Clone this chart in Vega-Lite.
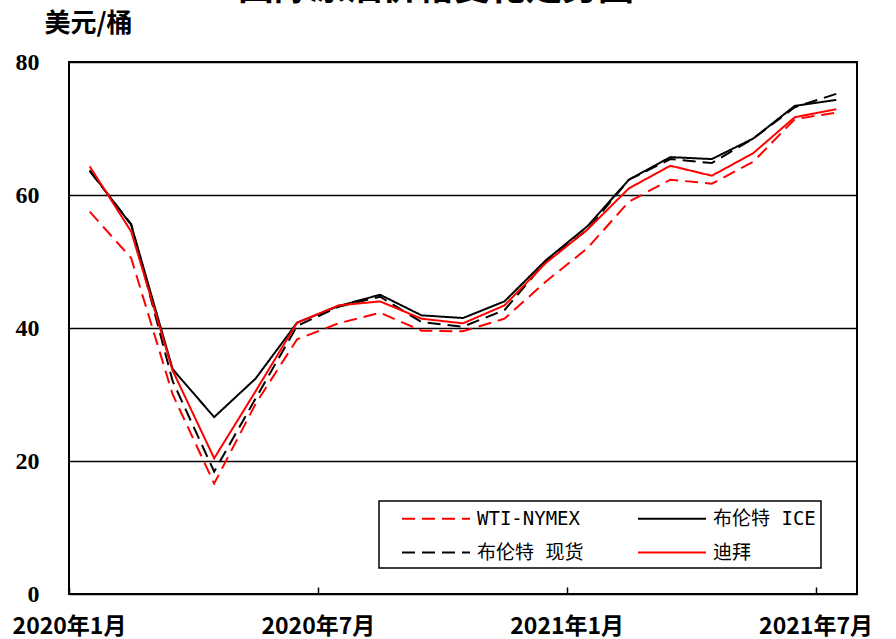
{
  "$schema": "https://vega.github.io/schema/vega-lite/v6.json",
  "width": 788,
  "height": 532,
  "autosize": {"type": "none"},
  "padding": {"top": 62, "left": 69, "right": 39, "bottom": 45},
  "background": "white",
  "title": {
    "text": "国际原油价格变化走势图",
    "font": "Noto Sans CJK SC",
    "fontSize": 36,
    "fontWeight": "bold",
    "color": "black",
    "anchor": "middle",
    "frame": "group",
    "dx": -27,
    "dy": 2
  },
  "data": {
    "values": [
      {"m": "2020年1月", "s": "WTI-NYMEX", "v": 57.5},
      {"m": "2020年2月", "s": "WTI-NYMEX", "v": 50.5},
      {"m": "2020年3月", "s": "WTI-NYMEX", "v": 30.0},
      {"m": "2020年4月", "s": "WTI-NYMEX", "v": 16.6},
      {"m": "2020年5月", "s": "WTI-NYMEX", "v": 28.6},
      {"m": "2020年6月", "s": "WTI-NYMEX", "v": 38.3},
      {"m": "2020年7月", "s": "WTI-NYMEX", "v": 40.7},
      {"m": "2020年8月", "s": "WTI-NYMEX", "v": 42.3},
      {"m": "2020年9月", "s": "WTI-NYMEX", "v": 39.6},
      {"m": "2020年10月", "s": "WTI-NYMEX", "v": 39.5},
      {"m": "2020年11月", "s": "WTI-NYMEX", "v": 41.4},
      {"m": "2020年12月", "s": "WTI-NYMEX", "v": 47.0},
      {"m": "2021年1月", "s": "WTI-NYMEX", "v": 52.0},
      {"m": "2021年2月", "s": "WTI-NYMEX", "v": 59.0},
      {"m": "2021年3月", "s": "WTI-NYMEX", "v": 62.3},
      {"m": "2021年4月", "s": "WTI-NYMEX", "v": 61.7},
      {"m": "2021年5月", "s": "WTI-NYMEX", "v": 65.0},
      {"m": "2021年6月", "s": "WTI-NYMEX", "v": 71.4},
      {"m": "2021年7月", "s": "WTI-NYMEX", "v": 72.4},
      {"m": "2020年1月", "s": "布伦特 ICE", "v": 63.7},
      {"m": "2020年2月", "s": "布伦特 ICE", "v": 55.5},
      {"m": "2020年3月", "s": "布伦特 ICE", "v": 33.8},
      {"m": "2020年4月", "s": "布伦特 ICE", "v": 26.6},
      {"m": "2020年5月", "s": "布伦特 ICE", "v": 32.4},
      {"m": "2020年6月", "s": "布伦特 ICE", "v": 40.8},
      {"m": "2020年7月", "s": "布伦特 ICE", "v": 43.3},
      {"m": "2020年8月", "s": "布伦特 ICE", "v": 45.0},
      {"m": "2020年9月", "s": "布伦特 ICE", "v": 41.9},
      {"m": "2020年10月", "s": "布伦特 ICE", "v": 41.5},
      {"m": "2020年11月", "s": "布伦特 ICE", "v": 44.0},
      {"m": "2020年12月", "s": "布伦特 ICE", "v": 50.2},
      {"m": "2021年1月", "s": "布伦特 ICE", "v": 55.3},
      {"m": "2021年2月", "s": "布伦特 ICE", "v": 62.3},
      {"m": "2021年3月", "s": "布伦特 ICE", "v": 65.7},
      {"m": "2021年4月", "s": "布伦特 ICE", "v": 65.4},
      {"m": "2021年5月", "s": "布伦特 ICE", "v": 68.5},
      {"m": "2021年6月", "s": "布伦特 ICE", "v": 73.4},
      {"m": "2021年7月", "s": "布伦特 ICE", "v": 74.3},
      {"m": "2020年1月", "s": "布伦特 现货", "v": 63.6},
      {"m": "2020年2月", "s": "布伦特 现货", "v": 55.6},
      {"m": "2020年3月", "s": "布伦特 现货", "v": 32.0},
      {"m": "2020年4月", "s": "布伦特 现货", "v": 18.4},
      {"m": "2020年5月", "s": "布伦特 现货", "v": 29.4},
      {"m": "2020年6月", "s": "布伦特 现货", "v": 40.3},
      {"m": "2020年7月", "s": "布伦特 现货", "v": 43.2},
      {"m": "2020年8月", "s": "布伦特 现货", "v": 44.7},
      {"m": "2020年9月", "s": "布伦特 现货", "v": 40.9},
      {"m": "2020年10月", "s": "布伦特 现货", "v": 40.2},
      {"m": "2020年11月", "s": "布伦特 现货", "v": 42.7},
      {"m": "2020年12月", "s": "布伦特 现货", "v": 50.0},
      {"m": "2021年1月", "s": "布伦特 现货", "v": 54.8},
      {"m": "2021年2月", "s": "布伦特 现货", "v": 62.3},
      {"m": "2021年3月", "s": "布伦特 现货", "v": 65.4},
      {"m": "2021年4月", "s": "布伦特 现货", "v": 64.8},
      {"m": "2021年5月", "s": "布伦特 现货", "v": 68.5},
      {"m": "2021年6月", "s": "布伦特 现货", "v": 73.2},
      {"m": "2021年7月", "s": "布伦特 现货", "v": 75.2},
      {"m": "2020年1月", "s": "迪拜", "v": 64.3},
      {"m": "2020年2月", "s": "迪拜", "v": 54.5},
      {"m": "2020年3月", "s": "迪拜", "v": 33.6},
      {"m": "2020年4月", "s": "迪拜", "v": 20.4},
      {"m": "2020年5月", "s": "迪拜", "v": 30.5},
      {"m": "2020年6月", "s": "迪拜", "v": 40.8},
      {"m": "2020年7月", "s": "迪拜", "v": 43.4},
      {"m": "2020年8月", "s": "迪拜", "v": 44.0},
      {"m": "2020年9月", "s": "迪拜", "v": 41.4},
      {"m": "2020年10月", "s": "迪拜", "v": 40.7},
      {"m": "2020年11月", "s": "迪拜", "v": 43.4},
      {"m": "2020年12月", "s": "迪拜", "v": 49.8},
      {"m": "2021年1月", "s": "迪拜", "v": 54.8},
      {"m": "2021年2月", "s": "迪拜", "v": 61.0},
      {"m": "2021年3月", "s": "迪拜", "v": 64.4},
      {"m": "2021年4月", "s": "迪拜", "v": 62.9},
      {"m": "2021年5月", "s": "迪拜", "v": 66.3},
      {"m": "2021年6月", "s": "迪拜", "v": 71.7},
      {"m": "2021年7月", "s": "迪拜", "v": 72.9}
    ]
  },
  "mark": {"type": "line", "strokeWidth": 2},
  "encoding": {
    "x": {
      "field": "m",
      "type": "ordinal",
      "sort": null,
      "bandPosition": 0.5,
      "scale": {"type": "band", "paddingInner": 0, "paddingOuter": 0},
      "axis": {
        "title": null,
        "values": ["2020年1月", "2020年7月", "2021年1月", "2021年7月"],
        "tickOffset": -20.74,
        "tickSize": -7,
        "tickColor": "black",
        "tickWidth": 1.5,
        "domain": false,
        "grid": false,
        "labelAngle": 0,
        "labelFont": "Noto Sans CJK SC",
        "labelFontSize": 23,
        "labelFontWeight": "bold",
        "labelColor": "black",
        "labelPadding": 28,
        "labelOverlap": false,
        "labelFlush": false
      }
    },
    "y": {
      "field": "v",
      "type": "quantitative",
      "scale": {"domain": [0, 80], "nice": false},
      "axis": {
        "values": [0, 20, 40, 60, 80],
        "grid": true,
        "gridColor": "black",
        "gridWidth": 1.5,
        "gridOpacity": 1,
        "domain": false,
        "ticks": false,
        "labelFont": "Liberation Serif",
        "labelFontWeight": "bold",
        "labelFontSize": 24,
        "labelColor": "black",
        "labelPadding": 30,
        "title": "美元/桶",
        "titleAngle": 0,
        "titleX": 19,
        "titleY": -39,
        "titleAlign": "center",
        "titleBaseline": "middle",
        "titleFont": "Noto Sans CJK SC",
        "titleFontSize": 26,
        "titleFontWeight": "bold",
        "titleColor": "black"
      }
    },
    "color": {
      "field": "s",
      "type": "nominal",
      "scale": {
        "domain": ["WTI-NYMEX", "布伦特 ICE", "布伦特 现货", "迪拜"],
        "range": ["#FF0000", "#000000", "#000000", "#FF0000"]
      },
      "legend": {
        "title": null,
        "orient": "none",
        "legendX": 310,
        "legendY": 439,
        "columns": 2,
        "direction": "horizontal",
        "symbolType": "M-3,0H3",
        "symbolSize": 514,
        "symbolStrokeWidth": 2,
        "symbolOffset": 39.5,
        "labelOffset": 28.5,
        "labelFont": "DejaVu Sans Mono, Noto Sans CJK SC",
        "labelFontSize": 19,
        "labelColor": "black",
        "labelLimit": 300,
        "columnPadding": 36,
        "rowPadding": 11,
        "padding": 5,
        "strokeColor": "black",
        "fillColor": "white"
      }
    },
    "strokeDash": {
      "field": "s",
      "type": "nominal",
      "scale": {
        "domain": ["WTI-NYMEX", "布伦特 ICE", "布伦特 现货", "迪拜"],
        "range": [[13, 7], [1, 0], [13, 7], [1, 0]]
      },
      "legend": {
        "title": null,
        "orient": "none",
        "legendX": 310,
        "legendY": 439,
        "columns": 2,
        "direction": "horizontal",
        "symbolType": "M-3,0H3",
        "symbolSize": 514,
        "symbolStrokeWidth": 2,
        "symbolOffset": 39.5,
        "labelOffset": 28.5,
        "labelFont": "DejaVu Sans Mono, Noto Sans CJK SC",
        "labelFontSize": 19,
        "labelColor": "black",
        "labelLimit": 300,
        "columnPadding": 36,
        "rowPadding": 11,
        "padding": 5,
        "strokeColor": "black",
        "fillColor": "white"
      }
    }
  },
  "config": {
    "view": {"stroke": "black", "strokeWidth": 2},
    "legend": {"strokeWidth": 1.5}
  }
}
